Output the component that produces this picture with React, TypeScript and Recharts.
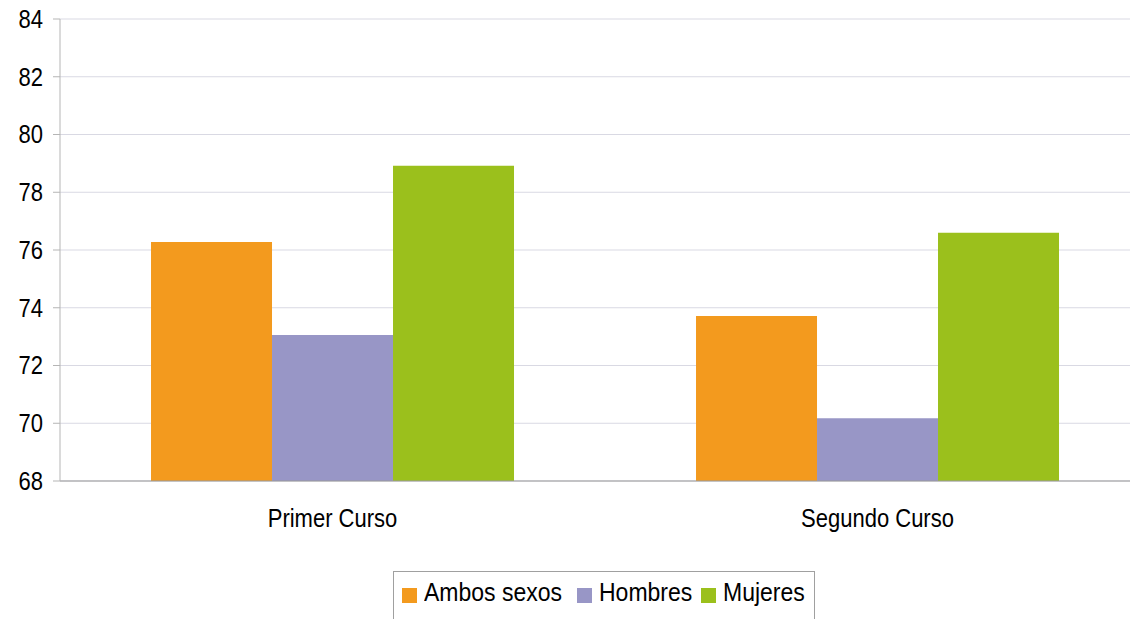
import React from 'react';
import { BarChart, Bar, XAxis, YAxis, CartesianGrid, Legend, ReferenceLine } from 'recharts';

const cursos = ['Primer Curso', 'Segundo Curso'];
const ambosSexos = [76.28, 73.71];
const hombres = [73.06, 70.17];
const mujeres = [78.92, 76.6];
const yTicks = [68, 70, 72, 74, 76, 78, 80, 82, 84];

const SERIES = [
  { key: 'ambos', name: 'Ambos sexos', color: '#F39A1E', slot: 175 },
  { key: 'hombres', name: 'Hombres', color: '#9896C6', slot: 124 },
  { key: 'mujeres', name: 'Mujeres', color: '#9BC01C', slot: 100 },
];

const data = cursos.map((c, i) => ({
  curso: c,
  ambos: ambosSexos[i],
  hombres: hombres[i],
  mujeres: mujeres[i],
}));

const font = '"Liberation Sans", Arial, sans-serif';
const STRETCH = 1.13;

// text in the original is a bit taller than it is wide
const YTick = (props: any) => {
  const { x, y, payload } = props;
  return (
    <g transform={`translate(${x},${y}) scale(1,${STRETCH})`}>
      <text x={0} y={0} dy="0.36em" textAnchor="end" fill="#000" fontSize={22} fontFamily={font}>
        {payload.value}
      </text>
    </g>
  );
};

const XTick = (props: any) => {
  const { x, y, payload } = props;
  return (
    <g transform={`translate(${x},${y}) scale(1,${STRETCH})`}>
      <text x={0} y={0} dy="0.71em" textAnchor="middle" fill="#000" fontSize={22} fontFamily={font}>
        {payload.value}
      </text>
    </g>
  );
};

const LegendBox = () => (
  <div
    style={{
      position: 'absolute',
      left: 393,
      top: 571,
      width: 422,
      height: 60,
      border: '1px solid #a0a0a0',
      boxSizing: 'border-box',
      display: 'flex',
      alignItems: 'flex-start',
      paddingTop: 7,
      paddingLeft: 8,
      fontFamily: font,
      fontSize: 23,
      color: '#000',
      whiteSpace: 'nowrap',
    }}
  >
    {SERIES.map((s) => (
      <span key={s.key} style={{ display: 'flex', alignItems: 'center', width: s.slot, flexShrink: 0 }}>
        <span style={{ width: 15, height: 15, background: s.color, display: 'inline-block', marginRight: 7, marginTop: 5, flexShrink: 0 }} />
        <span style={{ display: 'inline-block', transform: `scaleY(${STRETCH})` }}>{s.name}</span>
      </span>
    ))}
  </div>
);

export default function App() {
  return (
    <div style={{ position: 'fixed', left: 0, top: 0, width: 1130, height: 619, overflow: 'hidden', background: '#fff' }}>
      <BarChart
        width={1160}
        height={619}
        data={data}
        margin={{ top: 19, right: 10, bottom: 78, left: 0 }}
        barCategoryGap="16.7%"
        barGap={0}
        style={{ fontFamily: font }}
      >
        <CartesianGrid vertical={false} stroke="#d9d9e3" />
        <XAxis
          xAxisId="cat"
          dataKey="curso"
          tickLine={false}
          axisLine={{ stroke: '#999999' }}
          tick={<XTick />}
          tickMargin={22}
          height={60}
        />
        <XAxis xAxisId="sep" type="number" domain={[0, 2]} hide />
        <YAxis
          domain={[68, 84]}
          ticks={yTicks}
          width={60}
          tickSize={7}
          tickMargin={10}
          axisLine={{ stroke: '#b5b5b5' }}
          tickLine={{ stroke: '#b5b5b5' }}
          tick={<YTick />}
          allowDataOverflow
        />
        <ReferenceLine
          xAxisId="sep"
          segment={[{ x: 1, y: 68 }, { x: 1, y: 67.75 }]}
          stroke="#bbbbbb"
          ifOverflow="visible"
        />
        <Legend content={() => <LegendBox />} wrapperStyle={{ position: 'absolute', left: 0, top: 0 }} />
        {SERIES.map((s) => (
          <Bar key={s.key} xAxisId="cat" dataKey={s.key} name={s.name} fill={s.color} isAnimationActive={false} />
        ))}
      </BarChart>
    </div>
  );
}
